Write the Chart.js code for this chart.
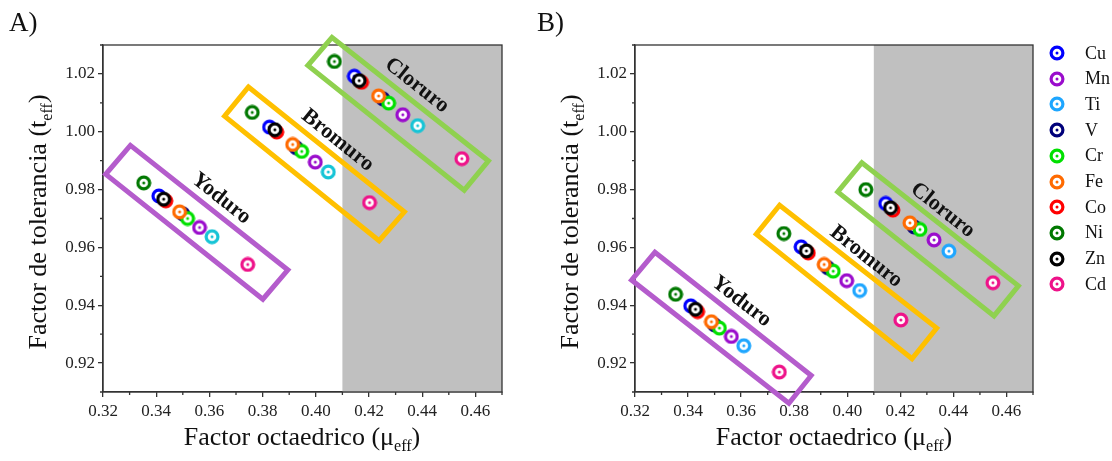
<!DOCTYPE html>
<html><head><meta charset="utf-8">
<script src="https://cdn.jsdelivr.net/npm/chart.js@4.4.1/dist/chart.umd.min.js"></script>
<style>
html,body{margin:0;padding:0;background:#fff;}
body{width:1112px;height:461px;position:relative;overflow:hidden;font-family:'Liberation Serif','Times New Roman',serif;color:#111;}
.wrap{position:absolute;top:0;width:556px;height:461px;}
.panel{position:absolute;font-size:27px;line-height:1;}
.xt{position:absolute;font-size:26px;line-height:1;white-space:nowrap;transform:translateX(-50%);}
.yt{position:absolute;font-size:26px;line-height:1;white-space:nowrap;transform:translate(-50%,-50%) rotate(-90deg);}
sub{font-size:62%;vertical-align:-0.4em;line-height:0;}
.lg{position:absolute;height:20px;display:flex;align-items:center;font-size:18px;white-space:nowrap;}
.lg canvas{margin-right:20px;}
</style></head>
<body>
<div class="wrap" style="left:0"><canvas id="cA" width="556" height="461"></canvas></div>
<div class="wrap" style="left:556px"><canvas id="cB" width="556" height="461"></canvas></div>
<div class="panel" style="left:9px;top:9px">A)</div>
<div class="panel" style="left:537px;top:9px">B)</div>
<div class="xt" style="left:302px;top:424px">Factor octaedrico (μ<sub>eff</sub>)</div>
<div class="xt" style="left:834px;top:424px">Factor octaedrico (μ<sub>eff</sub>)</div>
<div class="yt" style="left:38px;top:222px">Factor de tolerancia (t<sub>eff</sub>)</div>
<div class="yt" style="left:570px;top:222px">Factor de tolerancia (t<sub>eff</sub>)</div>
<div id="legend"></div>
<script>
// ---------- data ----------
const metals = ['Cu','Mn','Ti','V','Cr','Fe','Co','Ni','Zn','Cd'];
const groups = ['Yoduro','Bromuro','Cloruro'];
const xTickLabels = ['0.32','0.34','0.36','0.38','0.40','0.42','0.44','0.46'];
const yTickLabels = ['0.92','0.94','0.96','0.98','1.00','1.02'];

// octahedral factor (same for both panels), order as metals
const xYoduro  = [0.3410,0.3563,0.3610,0.3500,0.3518,0.3488,0.3436,0.3353,0.3428,0.3744];
const xBromuro = [0.3826,0.3998,0.4047,0.3926,0.3947,0.3913,0.3853,0.3761,0.3846,0.4202];
const xCloruro = [0.4145,0.4327,0.4383,0.4252,0.4274,0.4236,0.4172,0.4070,0.4163,0.4549];

// panel A tolerance factor
const yA_Yoduro  = [0.9778,0.9669,0.9637,0.9716,0.9700,0.9723,0.9761,0.9823,0.9767,0.9541];
const yA_Bromuro = [1.0016,0.9895,0.9861,0.9945,0.9932,0.9956,0.9999,1.0067,1.0007,0.9755];
const yA_Cloruro = [1.0192,1.0059,1.0021,1.0114,1.0099,1.0124,1.0171,1.0243,1.0177,0.9907];
// panel B tolerance factor
const yB_Yoduro  = [0.9398,0.9292,0.9260,0.9332,0.9321,0.9343,0.9378,0.9438,0.9386,0.9169];
const yB_Bromuro = [0.9602,0.9485,0.9451,0.9530,0.9518,0.9541,0.9581,0.9648,0.9588,0.9349];
const yB_Cloruro = [0.9752,0.9626,0.9587,0.9671,0.9662,0.9685,0.9729,0.9800,0.9737,0.9478];

// grey region start (mu_eff)
const greyStart = 0.41;

// group boxes (corners in data units: top, left, bottom, right)
const boxA_Yoduro  = [[0.3303,0.9953],[0.3210,0.9853],[0.3801,0.9421],[0.3895,0.9522]];
const boxA_Bromuro = [[0.3747,1.0155],[0.3657,1.0054],[0.4238,0.9623],[0.4333,0.9723]];
const boxA_Cloruro = [[0.4061,1.0326],[0.3970,1.0229],[0.4558,0.9798],[0.4649,0.9899]];
const boxB_Yoduro  = [[0.3275,0.9583],[0.3187,0.9487],[0.3780,0.9061],[0.3864,0.9157]];
const boxB_Bromuro = [[0.3745,0.9746],[0.3657,0.9646],[0.4244,0.9215],[0.4337,0.9321]];
const boxB_Cloruro = [[0.4055,0.9893],[0.3964,0.9792],[0.4553,0.9363],[0.4645,0.9467]];
// group label centres
const labelA = [[0.3644,0.9769],[0.4082,0.9970],[0.4380,1.0160]];
const labelB = [[0.3601,0.9413],[0.4071,0.9568],[0.4359,0.9729]];

// ---------- styles ----------
const colorsA = ['#0000ff','#9a0ccc','#16c4d6','#00007a','#00e000','#ff6a00','#ff0000','#007800','#000000','#ee1289'];
const colorsB = ['#0000ff','#9a0ccc','#1ea6ff','#00007a','#00e000','#ff6a00','#ff0000','#007800','#000000','#ee1289'];
const boxColors = ['#b45ccc','#ffc000','#8fd14f'];
const drawBottomToTop = ['V','Cu','Co','Zn','Cr','Fe','Mn','Ti','Ni','Cd'];
const SERIF = "'Liberation Serif','Times New Roman',serif";

function marker(color){
  const c = document.createElement('canvas');
  c.width = 16; c.height = 16;
  const g = c.getContext('2d');
  g.beginPath(); g.arc(8,8,5.9,0,Math.PI*2);
  g.fillStyle='#fff'; g.fill();
  g.lineWidth=3.2; g.strokeStyle=color; g.stroke();
  g.beginPath(); g.arc(8,8,1.5,0,Math.PI*2); g.fillStyle=color; g.fill();
  return c;
}

function metalDatasets(yY,yBr,yC,colors){
  return metals.map((m,i)=>({
    type:'scatter', label:m,
    data:[{x:xYoduro[i],y:yY[i]},{x:xBromuro[i],y:yBr[i]},{x:xCloruro[i],y:yC[i]}],
    pointStyle: marker(colors[i]), pointRadius:7, pointHoverRadius:7,
    order: 50 - drawBottomToTop.indexOf(m)
  }));
}
function boxDatasets(boxes){
  return boxes.map((b,i)=>({
    type:'line', label:groups[i]+' box',
    data:[...b, b[0], b[1]].map(p=>({x:p[0],y:p[1]})),
    borderColor:boxColors[i], borderWidth:5, borderJoinStyle:'miter',
    pointRadius:0, fill:false, tension:0, clip:false, order:100
  }));
}

const shade = {
  id:'shade',
  beforeDatasetsDraw(chart){
    const {ctx, chartArea:a, scales:{x,y}} = chart;
    ctx.save();
    const x0 = x.getPixelForValue(greyStart);
    ctx.fillStyle='#c0c0c0';
    ctx.fillRect(x0, a.top, a.right-x0, a.bottom-a.top);
    ctx.strokeStyle='#333'; ctx.lineWidth=1.3;
    ctx.strokeRect(a.left, a.top, a.right-a.left, a.bottom-a.top);
    ctx.beginPath();
    for(let v=0.33; v<0.475; v+=0.02){ const px=x.getPixelForValue(v); ctx.moveTo(px,a.bottom); ctx.lineTo(px,a.bottom+3); }
    for(let v=0.91; v<1.035; v+=0.02){ const py=y.getPixelForValue(v); ctx.moveTo(a.left,py); ctx.lineTo(a.left-3,py); }
    ctx.stroke();
    ctx.restore();
  }
};
const groupLabels = {
  id:'groupLabels',
  afterDatasetsDraw(chart, args, opts){
    const {ctx, scales:{x,y}} = chart;
    opts.items.forEach((p,i)=>{
      const b = opts.boxes[i];
      const ang = Math.atan2(y.getPixelForValue(b[2][1])-y.getPixelForValue(b[1][1]), x.getPixelForValue(b[2][0])-x.getPixelForValue(b[1][0]));
      ctx.save();
      ctx.translate(x.getPixelForValue(p[0]), y.getPixelForValue(p[1]));
      ctx.rotate(ang);
      ctx.font = "bold 22px " + SERIF;
      ctx.fillStyle='#111'; ctx.textAlign='center'; ctx.textBaseline='middle';
      ctx.fillText(groups[i],0,0);
      ctx.restore();
    });
  }
};

function makeChart(id, datasets, yAxisWidth, padRight, labels, boxes){
  return new Chart(document.getElementById(id), {
    type:'scatter',
    data:{datasets},
    options:{
      responsive:false, animation:false, events:[],
      layout:{padding:{top:45,right:padRight,left:0,bottom:0}},
      plugins:{legend:{display:false}, tooltip:{enabled:false}, title:{display:false},
        groupLabels:{items:labels, boxes}},
      scales:{
        x:{type:'linear', min:0.32, max:0.47,
          afterBuildTicks:s=>{s.ticks = xTickLabels.map(t=>({value:+t}));},
          afterFit:s=>{s.height=69;},
          ticks:{callback:(v,i)=>xTickLabels[i], color:'#222', font:{family:SERIF,size:17}, padding:4, maxRotation:0, autoSkip:false},
          grid:{drawOnChartArea:false, drawTicks:true, tickLength:5, color:'#333', lineWidth:1.3},
          border:{color:'#333', width:1.3}},
        y:{type:'linear', min:0.91, max:1.03,
          afterBuildTicks:s=>{s.ticks = yTickLabels.map(t=>({value:+t}));},
          afterFit:s=>{s.width=yAxisWidth;},
          ticks:{callback:(v,i)=>yTickLabels[i], color:'#222', font:{family:SERIF,size:17}, padding:3, autoSkip:false},
          grid:{drawOnChartArea:false, drawTicks:true, tickLength:5, color:'#333', lineWidth:1.3},
          border:{color:'#333', width:1.3}}
      }
    },
    plugins:[shade, groupLabels]
  });
}

const boxesA = [boxA_Yoduro, boxA_Bromuro, boxA_Cloruro];
const boxesB = [boxB_Yoduro, boxB_Bromuro, boxB_Cloruro];
makeChart('cA', [...boxDatasets(boxesA), ...metalDatasets(yA_Yoduro,yA_Bromuro,yA_Cloruro,colorsA)], 103, 54, labelA, boxesA);
makeChart('cB', [...boxDatasets(boxesB), ...metalDatasets(yB_Yoduro,yB_Bromuro,yB_Cloruro,colorsB)], 79, 79, labelB, boxesB);

// legend
const lg = document.getElementById('legend');
metals.forEach((m,i)=>{
  const row = document.createElement('div');
  row.className='lg';
  row.style.left='1049px';
  row.style.top=(53 + 25.7*i - 10)+'px';
  row.appendChild(marker(colorsB[i]));
  const t = document.createElement('span'); t.textContent=m; row.appendChild(t);
  lg.appendChild(row);
});
</script>
</body></html>
